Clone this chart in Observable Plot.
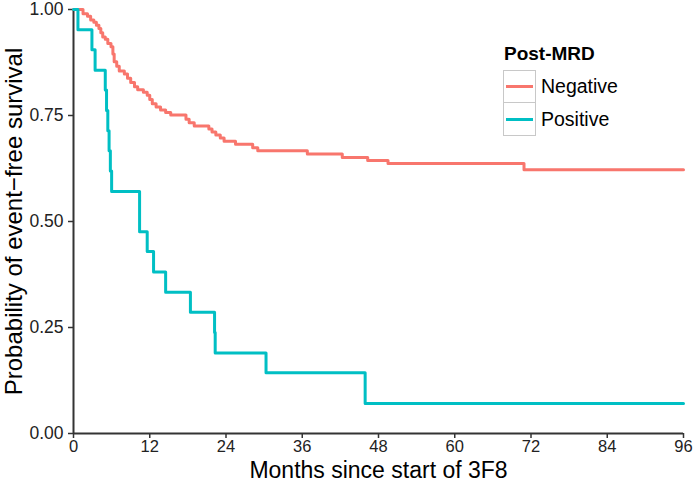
<!DOCTYPE html>
<html>
<head>
<meta charset="utf-8">
<script src="https://cdn.jsdelivr.net/npm/d3@7"></script>
<script src="https://cdn.jsdelivr.net/npm/@observablehq/plot@0.6"></script>
<style>
  body { margin: 0; background: #fff; }
  #wrap { position: relative; width: 694px; height: 482px; font-family: "Liberation Sans", Arial, sans-serif; }
  #legend { position: absolute; left: 503px; top: 43px; color: #000; }
  #legend .title { font-weight: bold; font-size: 19px; margin-left: 1px; margin-bottom: 5px; }
  #legend .row { display: flex; align-items: center; height: 33px; }
  #legend .key { width: 31px; height: 31px; border: 1px solid #c8c8c8; display: flex; align-items: center; justify-content: center; box-sizing: content-box; }
  #legend .row + .row .key { border-top: none; height: 32px; }
  #legend .key span { display: block; width: 27px; height: 3px; }
  #legend .lab { font-size: 19.5px; margin-left: 5px; }
</style>
</head>
<body>
<div id="wrap"><div id="chart"></div><div id="legend"></div></div>
<script>
// ---- data ----
const groups = ["Negative", "Positive"];
const groupColors = ["#F8766D", "#00BFC4"];

const negTime = [0, 1.1, 1.5, 2.2, 2.7, 3.2, 3.6, 4.0, 4.3, 4.6, 5.0, 5.4, 5.9, 6.2, 6.4, 6.8, 7.2, 8.0, 8.5, 9.0, 9.6, 10.1, 11.0, 11.6, 12.0, 12.4, 13.0, 13.7, 14.5, 15.3, 17.7, 18.2, 19.0, 21.3, 21.8, 22.4, 23.1, 23.7, 25.5, 28.2, 29.0, 36.8, 42.3, 46.3, 49.5, 70.9, 96];
const negSurv = [1, 1.0, 0.99, 0.984, 0.975, 0.97, 0.963, 0.955, 0.945, 0.935, 0.93, 0.92, 0.912, 0.895, 0.877, 0.866, 0.855, 0.848, 0.838, 0.828, 0.818, 0.811, 0.805, 0.798, 0.788, 0.778, 0.77, 0.763, 0.757, 0.751, 0.741, 0.733, 0.725, 0.718, 0.711, 0.704, 0.697, 0.689, 0.682, 0.674, 0.667, 0.659, 0.651, 0.644, 0.637, 0.622, 0.622];

const posTime = [0, 0.7, 2.9, 3.4, 5.0, 5.2, 5.4, 5.6, 5.8, 6.0, 10.4, 11.6, 12.6, 14.5, 18.4, 22.2, 22.3, 30.3, 45.9, 96];
const posSurv = [1, 0.952, 0.905, 0.857, 0.810, 0.762, 0.714, 0.667, 0.619, 0.571, 0.476, 0.429, 0.381, 0.333, 0.286, 0.238, 0.190, 0.143, 0.071, 0.071];

const xTicks = [0, 12, 24, 36, 48, 60, 72, 84, 96];
const yTicks = [0, 0.25, 0.5, 0.75, 1];
const xTitle = ["Months since start of 3F8"];
const yTitle = ["Probability of event\u2212free survival"];
const legendTitle = "Post-MRD";

// ---- tidy table ----
const rows = [
  ...negTime.map((t, i) => ({group: groups[0], time: t, surv: negSurv[i]})),
  ...posTime.map((t, i) => ({group: groups[1], time: t, surv: posSurv[i]}))
];

const chart = Plot.plot({
  width: 694,
  height: 482,
  marginLeft: 73,
  marginRight: 11,
  marginTop: 9,
  marginBottom: 49,
  style: {fontFamily: "Liberation Sans, Arial, sans-serif", background: "#fff"},
  x: {domain: [0, 96]},
  y: {domain: [0, 1]},
  color: {domain: groups, range: groupColors},
  marks: [
    Plot.axisX({ticks: xTicks, tickSize: 5, tickPadding: 2, fontSize: 16.5, label: null, stroke: "#333", strokeWidth: 1.5, fill: "#222"}),
    Plot.axisY({ticks: yTicks, tickSize: 5, tickPadding: 5, fontSize: 17.5, label: null, tickFormat: d3.format(".2f"), stroke: "#333", strokeWidth: 1.5, fill: "#222"}),
    Plot.ruleX([0], {stroke: "#333", strokeWidth: 2}),
    Plot.ruleY([0], {stroke: "#333", strokeWidth: 2}),
    Plot.line(rows, {x: "time", y: "surv", z: "group", stroke: "group", curve: "step-after", strokeWidth: 3}),
    Plot.text(xTitle, {frameAnchor: "bottom", lineAnchor: "middle", textAnchor: "middle", dy: 37.5, fontSize: 23, fill: "#000"}),
    Plot.text(yTitle, {frameAnchor: "left", lineAnchor: "middle", textAnchor: "middle", dx: -59, rotate: -90, fontSize: 24, fill: "#000"})
  ]
});
document.getElementById("chart").appendChild(chart);

// ---- legend ----
const leg = document.getElementById("legend");
const t = document.createElement("div");
t.className = "title";
t.textContent = legendTitle;
leg.appendChild(t);
groups.forEach((g, i) => {
  const r = document.createElement("div");
  r.className = "row";
  r.innerHTML = `<div class="key"><span style="background:${groupColors[i]}"></span></div><div class="lab">${g}</div>`;
  leg.appendChild(r);
});
</script>
</body>
</html>
